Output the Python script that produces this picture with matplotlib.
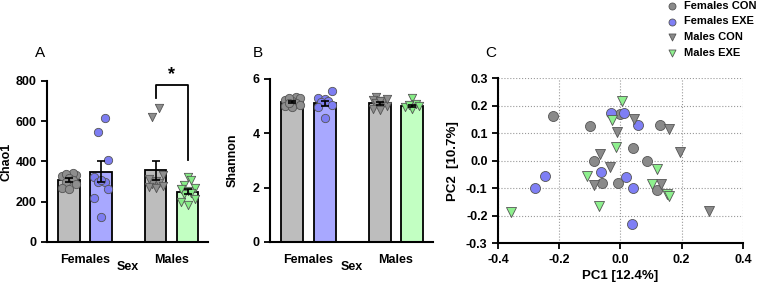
import numpy as np
import matplotlib.pyplot as plt

groups = ["Females CON", "Females EXE", "Males CON", "Males EXE"]
sex_labels = ["Females", "Males"]

# panel A: Chao1
chao_means = [308, 350, 355, 250]
chao_sem = [10, 50, 47, 14]
chao_pts = [
    [335, 345, 330, 340, 320, 310, 300, 290, 270, 262],
    [615, 545, 405, 322, 300, 300, 310, 262, 218, 125],
    [668, 622, 332, 305, 292, 286, 280, 274, 270, 312],
    [322, 306, 282, 266, 255, 245, 240, 212, 196, 182, 262],
]

# panel B: Shannon
shan_means = [5.15, 5.1, 5.1, 5.0]
shan_sem = [0.04, 0.1, 0.05, 0.05]
shan_pts = [
    [5.35, 5.28, 5.22, 5.18, 5.12, 5.05, 5.0, 4.98, 5.3, 5.1],
    [5.55, 5.3, 5.27, 5.2, 5.15, 5.05, 4.97, 4.55],
    [5.32, 5.22, 5.18, 5.1, 5.0, 4.9, 4.85, 5.26, 5.2],
    [5.28, 5.08, 5.02, 4.96, 4.9, 5.05],
]

# panel C: PCA
fcon_x = [-0.22, -0.10, -0.002, 0.13, 0.04, -0.086, 0.088, -0.06, -0.008, 0.119]
fcon_y = [0.162, 0.125, 0.168, 0.13, 0.046, 0.0, 0.0, -0.08, -0.08, -0.107]
fexe_x = [-0.031, 0.012, 0.058, -0.248, -0.28, -0.062, 0.019, 0.041, 0.039]
fexe_y = [0.172, 0.174, 0.131, -0.057, -0.10, -0.04, -0.058, -0.098, -0.229]
mcon_x = [0.046, -0.01, 0.158, -0.067, 0.195, -0.035, -0.085, 0.132, 0.288]
mcon_y = [0.15, 0.103, 0.115, 0.024, 0.032, -0.025, -0.09, -0.086, -0.184]
mexe_x = [0.006, -0.026, -0.015, -0.108, 0.121, 0.104, 0.151, 0.16, -0.071, -0.357]
mexe_y = [0.217, 0.147, 0.048, -0.055, -0.03, -0.085, -0.12, -0.13, -0.166, -0.187]

bar_cols = ["#bdbdbd", "#a8a8ff", "#bdbdbd", "#c2ffc2"]
pt_cols = ["#8e8e8e", "#7d7df2", "#8e8e8e", "#86ec86"]
markers = ["o", "o", "v", "v"]
xpos = [0, 1, 2.7, 3.7]
jitter = [0.0, -0.22, 0.22, -0.11, 0.11]

plt.rcParams["font.family"] = ["Liberation Sans", "DejaVu Sans"]
plt.rcParams["font.weight"] = "bold"

fig = plt.figure(figsize=(7.65, 2.87), dpi=100)


def bar_panel(ax, means, sems, pts, ylim, yticks, ylabel, lpad):
    for i in range(4):
        ax.bar(xpos[i], means[i], width=0.68, color=bar_cols[i], edgecolor="black",
               linewidth=1.3, zorder=1)
        ax.errorbar(xpos[i], means[i], yerr=sems[i], color="black", capsize=3,
                    elinewidth=1.2, capthick=1.2, zorder=3)
        # simple column scatter: neighbours in value get spread sideways
        order = np.argsort(pts[i])
        offs = np.zeros(len(pts[i]))
        for k, idx in enumerate(order):
            offs[idx] = jitter[k % len(jitter)]
        ax.scatter(offs + xpos[i], pts[i], s=36, marker=markers[i],
                   color=pt_cols[i], edgecolor="#555555", linewidth=0.6, zorder=2)
    ax.set_xlim(-0.69, 4.34)
    ax.set_ylim(*ylim)
    ax.set_yticks(yticks)
    ax.set_xticks([0.5, 3.2])
    ax.set_xticklabels(sex_labels)
    ax.tick_params(axis="x", length=0, labelsize=9, pad=9)
    ax.tick_params(axis="y", labelsize=9, width=1.3, length=4)
    for t in ax.get_xticklabels() + ax.get_yticklabels():
        t.set_fontweight("bold")
    ax.spines["top"].set_visible(False)
    ax.spines["right"].set_visible(False)
    ax.spines["left"].set_linewidth(1.5)
    ax.spines["bottom"].set_linewidth(1.5)
    ax.set_xlabel("Sex", fontsize=9, fontweight="bold", labelpad=-4)
    ax.set_ylabel(ylabel, fontsize=9, fontweight="bold", labelpad=lpad)


axA = fig.add_axes([0.0614, 0.157, 0.2106, 0.561])
bar_panel(axA, chao_means, chao_sem, chao_pts, (0, 800), [0, 200, 400, 600, 800], "Chao1", 2)
axA.plot([2.7, 2.7, 3.7, 3.7], [715, 780, 780, 405], color="black", lw=1.3, clip_on=False)
axA.text(3.2, 790, "*", ha="center", va="bottom", fontsize=13, fontweight="bold")

axB = fig.add_axes([0.353, 0.157, 0.213, 0.568])
bar_panel(axB, shan_means, shan_sem, shan_pts, (0, 6), [0, 2, 4, 6], "Shannon", 10)

axC = fig.add_axes([0.651, 0.153, 0.32, 0.575])
pca = [(fcon_x, fcon_y), (fexe_x, fexe_y), (mcon_x, mcon_y), (mexe_x, mexe_y)]
c_cols = ["#8a8a8a", "#7f7ff5", "#8a8a8a", "#8ef08e"]
for i, (px, py) in enumerate(pca):
    axC.scatter(px, py, s=52, marker=markers[i], color=c_cols[i], edgecolor="#555555",
                linewidth=0.6, zorder=3, label=groups[i])
axC.set_xlim(-0.4, 0.4)
axC.set_ylim(-0.3, 0.3)
axC.set_xticks([-0.4, -0.2, 0.0, 0.2, 0.4])
axC.set_yticks(np.round(np.arange(-0.3, 0.31, 0.1), 1))
axC.set_xticklabels(["-0.4", "-0.2", "0.0", "0.2", "0.4"])
axC.set_yticklabels(["-0.3", "-0.2", "-0.1", "0.0", "0.1", "0.2", "0.3"])
axC.grid(True, linestyle=":", color="#999999", linewidth=0.8)
axC.tick_params(labelsize=9, width=1.3, length=4)
for t in axC.get_xticklabels() + axC.get_yticklabels():
    t.set_fontweight("bold")
axC.spines["top"].set_visible(False)
axC.spines["right"].set_visible(False)
axC.spines["left"].set_linewidth(1.5)
axC.spines["bottom"].set_linewidth(1.5)
axC.set_xlabel("PC1 [12.4%]", fontsize=9.5, fontweight="bold", labelpad=3)
axC.set_ylabel("PC2  [10.7%]", fontsize=9.5, fontweight="bold", labelpad=5)

fig.legend(loc="upper left", bbox_to_anchor=(0.855, 1.02), frameon=False,
           prop={"size": 8, "weight": "bold"}, handletextpad=0.1, labelspacing=0.5,
           markerscale=0.7, borderaxespad=0.2)

fig.text(0.046, 0.80, "A", fontsize=11, fontweight="normal")
fig.text(0.331, 0.80, "B", fontsize=11, fontweight="normal")
fig.text(0.634, 0.80, "C", fontsize=11, fontweight="normal")

fig.savefig("out.png", dpi=100)
